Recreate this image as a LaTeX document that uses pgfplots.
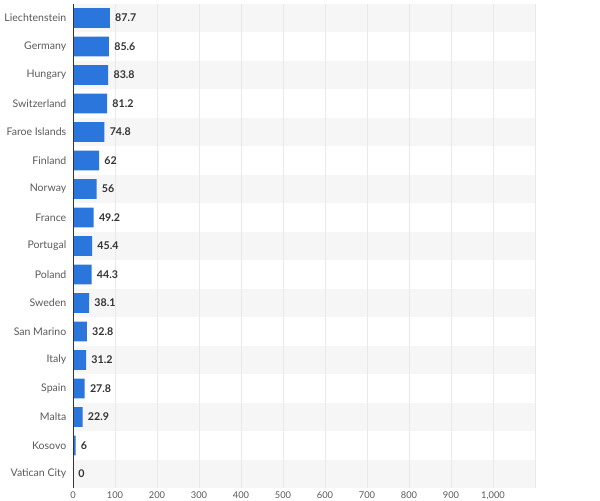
\documentclass[border=0pt]{standalone}
\usepackage{pgfplots}
\pgfplotsset{compat=1.18}
\usepackage{fontspec}
\setmainfont{Lato}
\definecolor{barblue}{HTML}{2A76DD}
\definecolor{stripe}{HTML}{F6F6F6}
\definecolor{gridc}{HTML}{E9E9E9}
\definecolor{labc}{HTML}{595959}
\definecolor{valc}{HTML}{333333}
\begin{document}
\begin{tikzpicture}
\begin{axis}[
  at={(54.75pt,8.8125pt)}, anchor=south west,
  scale only axis,
  width=346.5pt, height=363.375pt,
  set layers,
  xmin=0, xmax=1100,
  ymin=-0.5, ymax=16.5,
  y dir=reverse,
  xbar, bar width=0.7,
  xtick={0,100,200,300,400,500,600,700,800,900,1000,1100},
  xticklabels={0,100,200,300,400,500,600,700,800,900,{1,000},{}},
  ytick={0,...,16},
  yticklabels={Liechtenstein,Germany,Hungary,Switzerland,Faroe Islands,Finland,Norway,France,Portugal,Poland,Sweden,San Marino,Italy,Spain,Malta,Kosovo,Vatican City},
  xmajorgrids, grid style={gridc, line width=0.7pt},
  axis line style={draw=none},
  major tick length=0pt,
  yticklabel style={font=\fontsize{7.9}{9}\selectfont, text=labc, xshift=-1.5pt},
  xticklabel style={font=\fontsize{7}{8}\selectfont, text=labc, anchor=north, inner sep=0pt, yshift=-2.5pt},
  /pgf/number format/assume math mode=true,
  nodes near coords,
  every node near coord/.append style={anchor=west, font=\fontsize{8}{9}\selectfont\bfseries, text=valc, xshift=0.5pt},
]
\begin{pgfonlayer}{axis background}
\fill[stripe] (axis cs:0,-0.5) rectangle (axis cs:1100,0.5);
\fill[stripe] (axis cs:0,1.5) rectangle (axis cs:1100,2.5);
\fill[stripe] (axis cs:0,3.5) rectangle (axis cs:1100,4.5);
\fill[stripe] (axis cs:0,5.5) rectangle (axis cs:1100,6.5);
\fill[stripe] (axis cs:0,7.5) rectangle (axis cs:1100,8.5);
\fill[stripe] (axis cs:0,9.5) rectangle (axis cs:1100,10.5);
\fill[stripe] (axis cs:0,11.5) rectangle (axis cs:1100,12.5);
\fill[stripe] (axis cs:0,13.5) rectangle (axis cs:1100,14.5);
\fill[stripe] (axis cs:0,15.5) rectangle (axis cs:1100,16.5);
\end{pgfonlayer}
\addplot[fill=barblue, draw=none] coordinates {
(87.7,0) (85.6,1) (83.8,2) (81.2,3) (74.8,4) (62,5) (56,6) (49.2,7) (45.4,8) (44.3,9) (38.1,10) (32.8,11) (31.2,12) (27.8,13) (22.9,14) (6,15) (0,16)};
\draw[valc, line width=1pt] (axis cs:0,-0.5) -- (axis cs:0,16.5);
\end{axis}
\pgfresetboundingbox
\useasboundingbox (0pt,0pt) rectangle (450pt,375pt);
\end{tikzpicture}
\end{document}
